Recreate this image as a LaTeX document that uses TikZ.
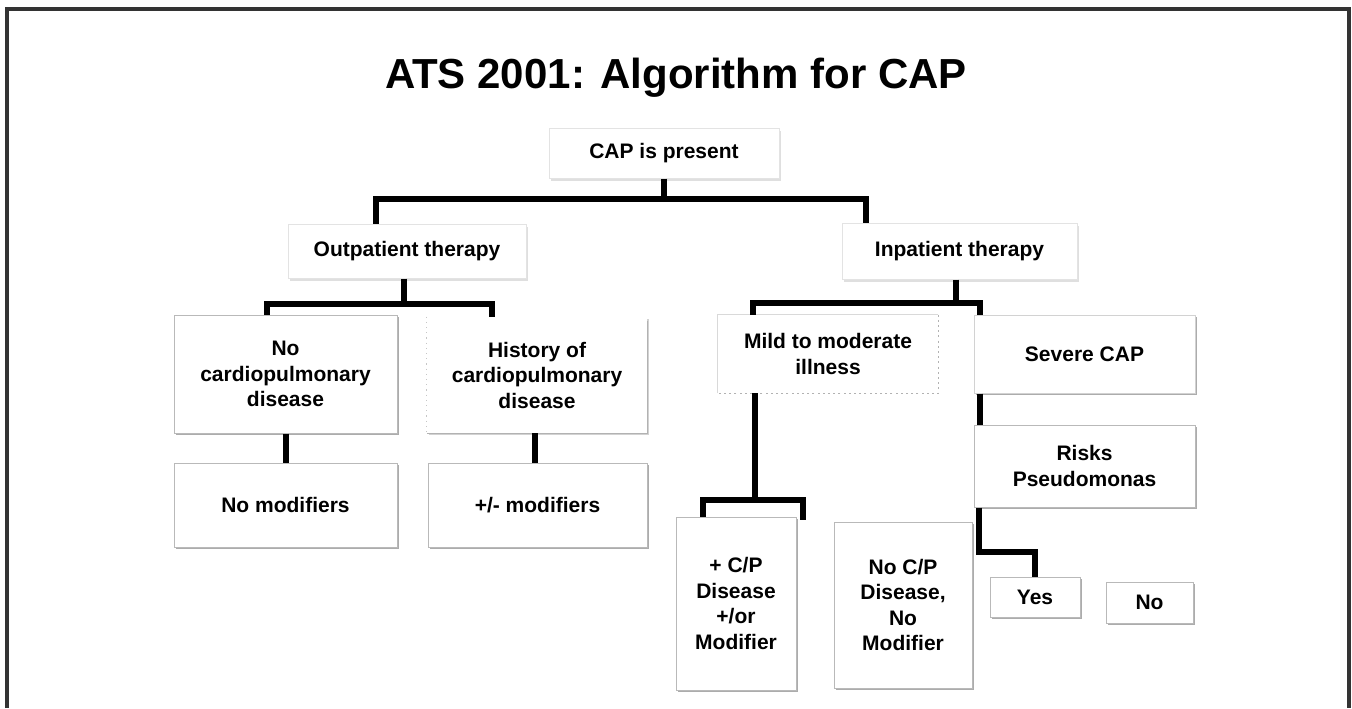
\documentclass[tikz,border=0pt]{standalone}
\usepackage{fontspec}
\setmainfont{Liberation Sans}
\usetikzlibrary{calc,shadows}

\begin{document}
\begin{tikzpicture}[x=0.5pt,y=-0.5pt,
  lbl/.style={font=\bfseries\fontsize{10.5}{12.75}\selectfont, align=center, inner sep=0pt, rectangle},
  wh/.style 2 args={minimum width=#1*0.5pt, minimum height=#2*0.5pt},
  box/.style={lbl, fill=white, draw=gray!55, line width=0.5pt,
    drop shadow={shadow xshift=1pt, shadow yshift=-1pt, fill=gray!65, opacity=1}},
  softbox/.style={lbl, fill=white, draw=gray!22, line width=0.5pt,
    drop shadow={shadow xshift=0.8pt, shadow yshift=-1.3pt, fill=gray!25, opacity=1}},
  bare/.style={lbl, fill=white,
    drop shadow={shadow xshift=0.8pt, shadow yshift=-1pt, fill=gray!35, opacity=1}},
  conn/.style={line width=3pt, black, line join=miter},
]
\useasboundingbox (0,0) rectangle (1352,708);

% page frame (open at the bottom)
\draw[line width=1.6pt, black!80] (7,708) -- (7,9) -- (1349,9) -- (1349,708);

% title
\node[font=\bfseries\fontsize{21}{25}\selectfont, anchor=base, inner sep=0pt] (title) at (676,88) {ATS 2001: Algorithm for CAP};

% boxes
\node[softbox, wh={230}{50}] (cap) at (664,153) {CAP is present};
\node[softbox, wh={238}{54}] (out) at (407,251) {Outpatient therapy};
\node[softbox, wh={235}{56}] (inp) at (959.5,251) {Inpatient therapy};

\node[box, wh={223}{118}] (nocp) at (285.5,374) {No\\cardiopulmonary\\disease};
\node[bare, wh={220}{116}] (hist) at (537,375) {History of\\cardiopulmonary\\disease};
\draw[gray!45, line width=0.6pt, dotted] (hist.north west) -- (hist.south west);
\draw[gray!60, line width=0.6pt] ($(hist.north east)+(0,4)$) -- (hist.south east) -- (hist.south west);

\node[box, wh={223}{84}] (nomod) at (285.5,505) {No modifiers};
\node[box, wh={219}{84}] (pmmod) at (537.5,505) {+/- modifiers};

\node[lbl, fill=white, wh={220}{78}] (mild) at (828,354) {Mild to moderate\\illness};
\draw[gray!30, line width=0.5pt] (mild.south west) -- (mild.north west) -- (mild.north east);
\draw[gray!60, line width=0.7pt, dash pattern=on 1pt off 1.6pt] (mild.north east) -- (mild.south east) -- (mild.south west);

\node[box, draw=gray!35, wh={221}{78}] (sev) at (1084.5,354) {Severe CAP};
\node[box, wh={221}{82}] (risk) at (1084.5,466) {Risks\\Pseudomonas};

\node[box, wh={120}{173}] (cpd) at (736,603.5) {+ C/P\\Disease\\+/or\\Modifier};
\node[box, wh={138}{166}] (nocpd) at (903,605) {No C/P\\Disease,\\No\\Modifier};
\node[box, wh={90}{40}] (yes) at (1035,597) {Yes};
\node[box, wh={87}{41}] (no) at (1149.5,602.5) {No};

% connectors
\draw[conn] (cap.south) -- ++(0,20) coordinate (j1);
\draw[conn] ($(out.north west)+(88,0)$) |- (j1) -| ($(inp.north west)+(24,0)$);

\draw[conn] ($(out.south)+(-3,0)$) -- ++(0,25) coordinate (j2);
\draw[conn] ($(nocp.north west)+(93,0)$) |- (j2) -| ($(hist.north west)+(65,0)$);
\draw[conn] (nocp.south) -- (nomod.north);
\draw[conn] ($(hist.south)+(-2,0)$) -- ($(pmmod.north)+(-2.5,0)$);

\draw[conn] ($(inp.south)+(-3.5,0)$) -- ++(0,23) coordinate (j3);
\draw[conn] ($(mild.north west)+(35,0)$) |- (j3) -| ($(sev.north west)+(6,0)$);

\draw[conn] ($(mild.south west)+(37,0)$) -- ++(0,107) coordinate (j4);
\draw[conn] ($(cpd.north west)+(27,0)$) |- (j4) -| ($(cpd.north east)+(6,3)$);

\draw[conn] ($(sev.south west)+(6,0)$) -- ($(risk.north west)+(6,0)$);
\draw[conn] ($(risk.south west)+(5,0)$) |- ($(yes.north)+(0,-25)$) -- (yes.north);
\end{tikzpicture}
\end{document}
